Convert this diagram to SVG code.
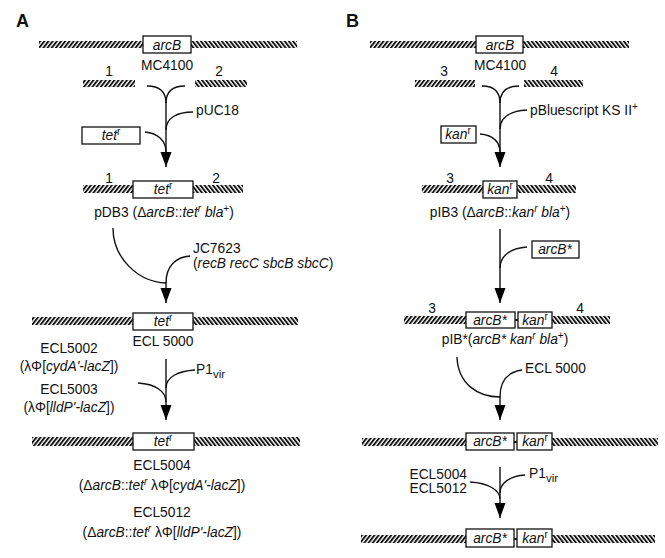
<svg xmlns="http://www.w3.org/2000/svg" width="665" height="558" viewBox="0 0 665 558">
<defs>
<pattern id="hl" width="3.3" height="4" patternUnits="userSpaceOnUse" patternTransform="rotate(38)"><rect width="1.9" height="4" fill="#111"/></pattern>
<pattern id="hr" width="3.3" height="4" patternUnits="userSpaceOnUse" patternTransform="rotate(-38)"><rect width="1.9" height="4" fill="#111"/></pattern>
<marker id="ah" markerUnits="userSpaceOnUse" markerWidth="16" markerHeight="12" viewBox="0 0 16 12" refX="15" refY="6" orient="auto"><path d="M0,0.5 L15,6 L0,11.5 Z" fill="#000"/></marker>
</defs>
<style>
text{font-family:"Liberation Sans",Arial,sans-serif;font-size:13.8px;fill:#111}
.m{text-anchor:middle}
.e{text-anchor:end}
.i{font-style:italic}
.h{font-weight:bold;font-size:18px}
.sup{font-size:10px}
.box{fill:#fff;stroke:#111;stroke-width:1.3}
.hl{fill:url(#hl)}
.hr{fill:url(#hr)}
.c{fill:none;stroke:#111;stroke-width:1.4}
</style>
<rect width="665" height="558" fill="#fff"/>

<text class="h" x="16" y="27">A</text>
<text class="h" x="346" y="27">B</text>

<!-- Panel A nodes -->
<g id="A_MC4100">
<rect class="hl" x="39" y="41" width="104" height="7"/>
<rect class="hr" x="191" y="41" width="106" height="7"/>
<rect class="box" x="143" y="36" width="48" height="17"/>
<text class="m i" x="167" y="50">arcB</text>
<text class="m" x="167" y="70">MC4100</text>
</g>
<g id="A_frag1">
<rect class="hl" x="83" y="80" width="52" height="7"/>
<text class="m" x="109" y="76">1</text>
</g>
<g id="A_frag2">
<rect class="hr" x="195" y="80" width="52" height="7"/>
<text class="m" x="219" y="76">2</text>
</g>
<g id="A_pUC18"><text x="196" y="115">pUC18</text></g>
<g id="A_tet">
<rect class="box" x="82" y="127" width="58" height="17"/>
<text class="m" x="111" y="140"><tspan class="i">tet</tspan><tspan class="sup" dy="-5">r</tspan></text>
</g>
<g id="A_pDB3">
<rect class="hl" x="83" y="185" width="50" height="8"/>
<rect class="hr" x="193" y="185" width="50" height="8"/>
<rect class="box" x="133" y="181" width="60" height="17"/>
<text class="m" x="163" y="194"><tspan class="i">tet</tspan><tspan class="sup" dy="-5">r</tspan></text>
<text class="m" x="109" y="183">1</text>
<text class="m" x="216" y="183">2</text>
<text class="m" x="164" y="217">pDB3 (Δ<tspan class="i">arcB</tspan>::<tspan class="i">tet</tspan><tspan class="sup i" dy="-5">r</tspan><tspan dy="5"> </tspan><tspan class="i">bla</tspan><tspan class="sup" dy="-5">+</tspan><tspan dy="5">)</tspan></text>
</g>
<g id="A_JC7623">
<text x="193" y="253">JC7623</text>
<text x="193" y="268">(<tspan class="i">recB recC sbcB sbcC</tspan>)</text>
</g>
<g id="A_ECL5000">
<rect class="hl" x="32" y="317" width="101" height="8"/>
<rect class="hr" x="193" y="317" width="105" height="8"/>
<rect class="box" x="133" y="313" width="60" height="17"/>
<text class="m" x="163" y="326"><tspan class="i">tet</tspan><tspan class="sup" dy="-5">r</tspan></text>
<text class="m" x="163" y="346">ECL 5000</text>
</g>
<g id="A_ECL5002">
<text class="m" x="69" y="353">ECL5002</text>
<text class="m" x="69" y="371">(λΦ[<tspan class="i">cydA'-lacZ</tspan>])</text>
</g>
<g id="A_ECL5003">
<text class="m" x="69" y="394">ECL5003</text>
<text class="m" x="69" y="412">(λΦ[<tspan class="i">lldP'-lacZ</tspan>])</text>
</g>
<g id="A_P1vir"><text x="196" y="374">P1<tspan font-size="11.5" dy="4">vir</tspan></text></g>
<g id="A_ECL5004">
<rect class="hl" x="32" y="437" width="101" height="9"/>
<rect class="hr" x="194" y="437" width="106" height="9"/>
<rect class="box" x="133" y="433" width="61" height="17"/>
<text class="m" x="163" y="446"><tspan class="i">tet</tspan><tspan class="sup" dy="-5">r</tspan></text>
<text class="m" x="162" y="470">ECL5004</text>
<text class="m" x="162" y="490">(Δ<tspan class="i">arcB</tspan>::<tspan class="i">tet</tspan><tspan class="sup i" dy="-5">r</tspan><tspan dy="5"> λΦ[</tspan><tspan class="i">cydA'-lacZ</tspan>])</text>
<text class="m" x="162" y="517">ECL5012</text>
<text class="m" x="162" y="537">(Δ<tspan class="i">arcB</tspan>::<tspan class="i">tet</tspan><tspan class="sup i" dy="-5">r</tspan><tspan dy="5"> λΦ[</tspan><tspan class="i">lldP'-lacZ</tspan>])</text>
</g>

<!-- Panel B nodes -->
<g id="B_MC4100">
<rect class="hl" x="370" y="41" width="106" height="7"/>
<rect class="hr" x="523" y="41" width="106" height="7"/>
<rect class="box" x="476" y="36" width="47" height="17"/>
<text class="m i" x="500" y="50">arcB</text>
<text class="m" x="500" y="70">MC4100</text>
</g>
<g id="B_frag3">
<rect class="hl" x="415" y="80" width="60" height="7"/>
<text class="m" x="444" y="76">3</text>
</g>
<g id="B_frag4">
<rect class="hr" x="524" y="80" width="59" height="7"/>
<text class="m" x="554" y="76">4</text>
</g>
<g id="B_pBluescript"><text x="530" y="115">pBluescript KS II<tspan class="sup" dy="-5">+</tspan></text></g>
<g id="B_kan">
<rect class="box" x="441" y="126" width="35" height="17"/>
<text class="m" x="458" y="139"><tspan class="i">kan</tspan><tspan class="sup" dy="-5">r</tspan></text>
</g>
<g id="B_pIB3">
<rect class="hl" x="422" y="185" width="61" height="8"/>
<rect class="hr" x="517" y="185" width="59" height="8"/>
<rect class="box" x="483" y="181" width="34" height="17"/>
<text class="m" x="500" y="194"><tspan class="i">kan</tspan><tspan class="sup" dy="-5">r</tspan></text>
<text class="m" x="450" y="183">3</text>
<text class="m" x="549" y="183">4</text>
<text class="m" x="500" y="217">pIB3 (Δ<tspan class="i">arcB</tspan>::<tspan class="i">kan</tspan><tspan class="sup i" dy="-5">r</tspan><tspan dy="5"> </tspan><tspan class="i">bla</tspan><tspan class="sup" dy="-5">+</tspan><tspan dy="5">)</tspan></text>
</g>
<g id="B_arcBstar">
<rect class="box" x="532" y="241" width="47" height="17"/>
<text class="m i" x="555" y="254">arcB*</text>
</g>
<g id="B_pIBstar">
<rect class="hl" x="404" y="316" width="62" height="8"/>
<rect class="hr" x="552" y="316" width="58" height="8"/>
<rect x="515" y="319" width="3" height="2" fill="#111"/>
<rect class="box" x="466" y="312" width="49" height="16"/>
<rect class="box" x="518" y="312" width="34" height="16"/>
<text class="m i" x="490" y="325">arcB*</text>
<text class="m" x="535" y="325"><tspan class="i">kan</tspan><tspan class="sup" dy="-5">r</tspan></text>
<text class="m" x="432" y="313">3</text>
<text class="m" x="580" y="313">4</text>
<text class="m" x="505" y="344">pIB*(<tspan class="i">arcB* kan</tspan><tspan class="sup i" dy="-5">r</tspan><tspan dy="5"> </tspan><tspan class="i">bla</tspan><tspan class="sup" dy="-5">+</tspan><tspan dy="5">)</tspan></text>
</g>
<g id="B_ECL5000"><text x="525" y="373">ECL 5000</text></g>
<g id="B_mid">
<rect class="hl" x="362" y="438" width="104" height="8"/>
<rect class="hr" x="552" y="438" width="106" height="8"/>
<rect x="514" y="441" width="3" height="2" fill="#111"/>
<rect class="box" x="466" y="433" width="48" height="17"/>
<rect class="box" x="517" y="433" width="35" height="17"/>
<text class="m i" x="490" y="446">arcB*</text>
<text class="m" x="535" y="446"><tspan class="i">kan</tspan><tspan class="sup" dy="-5">r</tspan></text>
</g>
<g id="B_donors">
<text class="e" x="467" y="479">ECL5004</text>
<text class="e" x="467" y="493">ECL5012</text>
</g>
<g id="B_P1vir"><text x="529" y="478">P1<tspan font-size="11.5" dy="4">vir</tspan></text></g>
<g id="B_final">
<rect class="hl" x="361" y="535" width="105" height="8"/>
<rect class="hr" x="552" y="535" width="103" height="8"/>
<rect x="514" y="538" width="3" height="2" fill="#111"/>
<rect class="box" x="466" y="529" width="48" height="18"/>
<rect class="box" x="517" y="529" width="35" height="18"/>
<text class="m i" x="490" y="543">arcB*</text>
<text class="m" x="535" y="543"><tspan class="i">kan</tspan><tspan class="sup" dy="-5">r</tspan></text>
</g>

<!-- connectors -->
<g id="connectors">
<path class="c" d="M147,86 C160,86 166,92 166,103"/>
<path class="c" d="M185,86 C172,86 166,92 166,103"/>
<path class="c" d="M166,102 V167" marker-end="url(#ah)"/>
<path class="c" d="M193,112 C177,112 166,118 166,130"/>
<path class="c" d="M145,132 C158,133 166,141 166,152"/>
<path class="c" d="M113,228 C113,258 138,282 166,283"/>
<path class="c" d="M190,256 C176,257 166,266 166,283"/>
<path class="c" d="M166,282 V303" marker-end="url(#ah)"/>
<path class="c" d="M166,359 V420" marker-end="url(#ah)"/>
<path class="c" d="M195,370 C178,371 166,377 166,388"/>
<path class="c" d="M138,383 C155,384 166,391 166,402"/>

<path class="c" d="M482,86 C494,86 500,92 500,103"/>
<path class="c" d="M519,86 C506,86 500,92 500,103"/>
<path class="c" d="M500,102 V167" marker-end="url(#ah)"/>
<path class="c" d="M527,110 C511,111 500,117 500,129"/>
<path class="c" d="M480,134 C493,135 500,142 500,152"/>
<path class="c" d="M500,229 V303" marker-end="url(#ah)"/>
<path class="c" d="M527,247 C512,248 500,255 500,268"/>
<path class="c" d="M457,357 C458,384 478,397 500,397"/>
<path class="c" d="M522,370 C508,372 500,380 500,397"/>
<path class="c" d="M500,396 V420" marker-end="url(#ah)"/>
<path class="c" d="M500,467 V518" marker-end="url(#ah)"/>
<path class="c" d="M525,475 C510,476 500,483 500,493"/>
<path class="c" d="M470,482 C488,483 500,490 500,499"/>
</g>
</svg>
